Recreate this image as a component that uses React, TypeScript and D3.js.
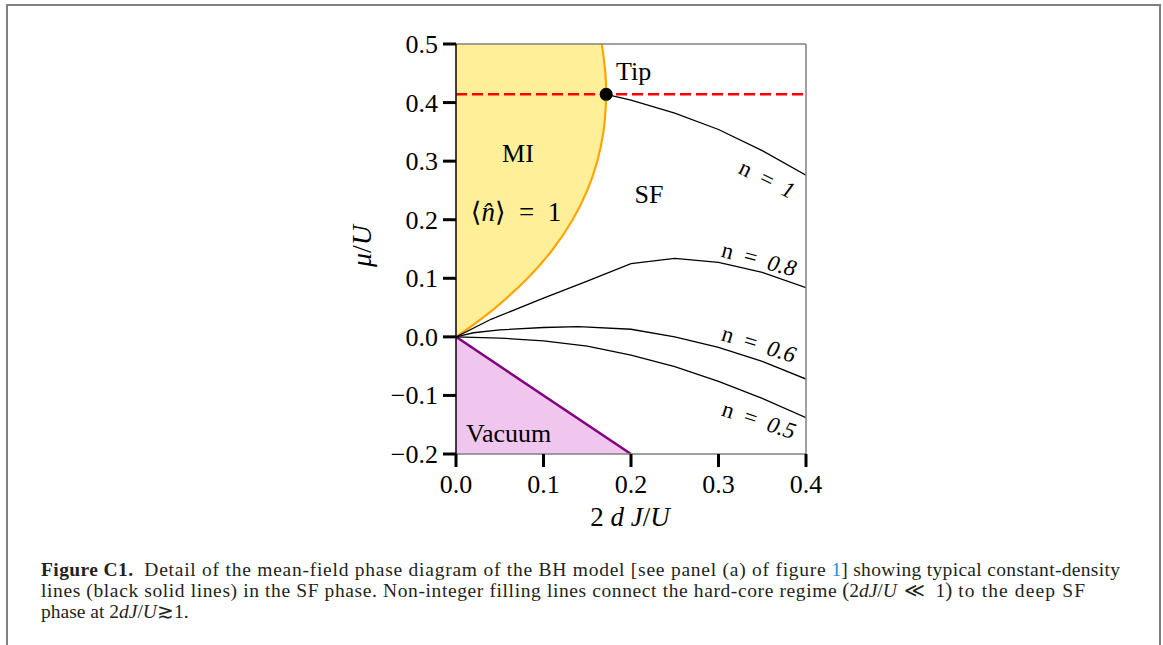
import React, { useLayoutEffect, useRef, useState } from "react";
import * as d3 from "d3";

// ---------- data ----------
const xTicks = [0.0, 0.1, 0.2, 0.3, 0.4];
const yTicks = [-0.2, -0.1, 0.0, 0.1, 0.2, 0.3, 0.4, 0.5];

// Mott-lobe (n=1) boundary : [2dJ/U, mu/U]
const lobeBoundary: [number, number][] = [
  [0.0, 0.0], [0.0192, 0.02], [0.0452, 0.05], [0.0818, 0.1], [0.1109, 0.15],
  [0.1333, 0.2], [0.15, 0.25], [0.1615, 0.3], [0.1685, 0.35], [0.1714, 0.4],
  [0.1716, 0.414], [0.1707, 0.45], [0.1667, 0.5],
];
// Vacuum boundary
const vacuumBoundary: [number, number][] = [[0.0, 0.0], [0.2, -0.2]];
const tipPoint: [number, number] = [0.1716, 0.414];
const tipMu = 0.414;

const lineN1: [number, number][] = [
  [0.1716, 0.414], [0.2, 0.404], [0.25, 0.382], [0.3, 0.354], [0.35, 0.318], [0.4, 0.276],
];
const lineN08: [number, number][] = [
  [0.0, 0.0], [0.04, 0.03], [0.1, 0.066], [0.15, 0.095], [0.2, 0.125],
  [0.25, 0.134], [0.3, 0.127], [0.35, 0.11], [0.4, 0.084],
];
const lineN06: [number, number][] = [
  [0.0, 0.0], [0.02, 0.007], [0.05, 0.012], [0.1, 0.016], [0.14, 0.0175],
  [0.2, 0.013], [0.25, 0.0], [0.3, -0.018], [0.35, -0.042], [0.4, -0.072],
];
const lineN05: [number, number][] = [
  [0.0, 0.0], [0.05, -0.002], [0.1, -0.007], [0.15, -0.016], [0.2, -0.031],
  [0.25, -0.051], [0.3, -0.076], [0.35, -0.105], [0.4, -0.138],
];
const densityLabels = ["1", "0.8", "0.6", "0.5"];

const NB = "\u00A0";
type Seg = { t: string; b?: boolean; i?: boolean; fill?: string; size?: number };
const captionLine1: Seg[] = [
  { t: "Figure C1.", b: true },
  { t: NB + NB + "Detail of the mean-field phase diagram of the BH model [see panel (a) of figure" + NB },
  { t: "1", fill: "#1e8fd8" },
  { t: "] showing typical constant-density" },
];
const captionLine2: Seg[] = [
  { t: "lines (black solid lines) in the SF phase. Non-integer filling lines connect the hard-core regime" + NB },
  { t: "(", size: 21 },
  { t: "2" }, { t: "dJ", i: true }, { t: "/" }, { t: "U", i: true }, { t: NB + "\u226A" + NB + "1" },
  { t: ")", size: 21 },
  { t: NB + "to the deep SF" },
];
const captionLine3: Seg[] = [
  { t: "phase at 2" }, { t: "dJ", i: true }, { t: "/" }, { t: "U", i: true }, { t: "\u2273" }, { t: "1." },
];

// ---------- layout ----------
const W = 1163, H = 645;
const x = d3.scaleLinear().domain([0, 0.4]).range([456, 806]);
const y = d3.scaleLinear().domain([-0.2, 0.5]).range([454, 44]);
const fmt = d3.format(".1f");
const serif = "'Liberation Serif', 'DejaVu Serif', serif";

const line = d3.line<[number, number]>().x(d => x(d[0])).y(d => y(d[1]));
const smooth = d3.line<[number, number]>().x(d => x(d[0])).y(d => y(d[1])).curve(d3.curveCatmullRom);

const captionLines = [
  { segs: captionLine1, baseline: 576, target: 1079 },
  { segs: captionLine2, baseline: 597, target: 1044 },
  { segs: captionLine3, baseline: 618, target: 0 },
];
const CAP_X = 41;
const CAP_SIZE = 19.5;

function Caption() {
  const refs = useRef<(SVGTextElement | null)[][]>(captionLines.map(() => []));
  const [layout, setLayout] = useState<{ xs: number[]; lens: (number | undefined)[] }[] | null>(null);
  useLayoutEffect(() => {
    const res = captionLines.map((ln, li) => {
      const widths = ln.segs.map((_, si) => refs.current[li][si]?.getComputedTextLength() || 0);
      const spaces = ln.segs.map(s => (s.t.match(/[ \u00A0]/g) || []).length);
      const total = d3.sum(widths);
      const nsp = d3.sum(spaces);
      const extra = ln.target && nsp ? Math.max(0, (ln.target - total) / nsp) : 0;
      const xs: number[] = [];
      const lens: (number | undefined)[] = [];
      let cx = CAP_X;
      ln.segs.forEach((s, si) => {
        xs.push(cx);
        const w = widths[si] + spaces[si] * extra;
        lens.push(spaces[si] && extra ? w : undefined);
        cx += w;
      });
      return { xs, lens };
    });
    setLayout(res);
  }, []);
  return (
    <g fontSize={CAP_SIZE} fill="#231f20">
      {captionLines.map((ln, li) =>
        ln.segs.map((s, si) => {
          const lx = layout ? layout[li].xs[si] : CAP_X;
          const len = layout ? layout[li].lens[si] : undefined;
          return (
            <text
              key={li + "-" + si}
              ref={el => { refs.current[li][si] = el; }}
              x={lx}
              y={ln.baseline}
              fontWeight={s.b ? "bold" : undefined}
              fontStyle={s.i ? "italic" : undefined}
              fill={s.fill}
              fontSize={s.size}
              textLength={len}
              lengthAdjust={len ? "spacing" : undefined}
              opacity={layout ? 1 : 0}
            >
              {s.t}
            </text>
          );
        })
      )}
    </g>
  );
}

export default function App() {
  const [x0, x1] = x.range();
  const [yb, yt] = y.range();
  const lobePath = smooth(lobeBoundary) + `L${x(0)},${y(0.5)}Z`;
  const vacPath = line(vacuumBoundary) + `L${x(0)},${y(-0.2)}Z`;
  const nLines = [lineN1, lineN08, lineN06, lineN05];
  const labelPos = [
    { cx: 767, cy: 179, rot: 26 },
    { cx: 759, cy: 259, rot: 15 },
    { cx: 759, cy: 344, rot: 17 },
    { cx: 759, cy: 420, rot: 18 },
  ];
  return (
    <svg width={W} height={H} style={{ position: "absolute", left: 0, top: 0, background: "#fff" }}
      fontFamily={serif}>
      <rect x={0} y={0} width={W} height={H} fill="#fff" />
      {/* page frame */}
      <path d={`M7,${H}V5H1160V${H}`} fill="none" stroke="#808080" strokeWidth={2} />
      <defs>
        <clipPath id="plot">
          <rect x={x0} y={yt} width={x1 - x0} height={yb - yt} />
        </clipPath>
      </defs>
      <g clipPath="url(#plot)">
        <path d={lobePath} fill="#ffef99" stroke="none" />
        <path d={smooth(lobeBoundary) || ""} fill="none" stroke="#ffa500" strokeWidth={2.2} />
        <path d={vacPath} fill="#f0c6ef" stroke="none" />
        <path d={line(vacuumBoundary) || ""} fill="none" stroke="#800080" strokeWidth={2.5} />
        {nLines.map((l, i) => (
          <path key={i} d={line(l) || ""} fill="none" stroke="#000" strokeWidth={1.3} />
        ))}
        <line x1={x(0)} x2={x(0.4)} y1={y(tipMu)} y2={y(tipMu)} stroke="#ff0000"
          strokeWidth={2.5} strokeDasharray="11,5" />
      </g>
      <circle cx={x(tipPoint[0])} cy={y(tipPoint[1])} r={6.5} fill="#000" />
      {/* spines */}
      <line x1={x0} x2={x1} y1={yt} y2={yt} stroke="#808080" strokeWidth={1.5} />
      <line x1={x1} x2={x1} y1={yt} y2={yb} stroke="#808080" strokeWidth={1.5} />
      <line x1={x0} x2={x1} y1={yb} y2={yb} stroke="#808080" strokeWidth={1.5} />
      <line x1={x0} x2={x0} y1={yt} y2={yb} stroke="#000" strokeWidth={1.5} />
      {/* ticks */}
      {yTicks.map(t => (
        <g key={"y" + t}>
          <line x1={x0 - 13} x2={x0} y1={y(t)} y2={y(t)} stroke="#000" strokeWidth={3} />
          <text x={438} y={y(t) + 9} textAnchor="end" fontSize={26}>{fmt(t)}</text>
        </g>
      ))}
      {xTicks.map(t => (
        <g key={"x" + t}>
          <line x1={x(t)} x2={x(t)} y1={yb} y2={yb + 13} stroke="#000" strokeWidth={3} />
          <text x={x(t)} y={493} textAnchor="middle" fontSize={26}>{fmt(t)}</text>
        </g>
      ))}
      {/* axis labels */}
      <text x={630} y={526} textAnchor="middle" fontSize={27}>
        2 <tspan fontStyle="italic">d</tspan> <tspan fontStyle="italic">J</tspan>/<tspan fontStyle="italic">U</tspan>
      </text>
      <text transform="translate(371,246) rotate(-90)" textAnchor="middle" fontSize={28}>
        <tspan fontStyle="italic">μ</tspan>/<tspan fontStyle="italic">U</tspan>
      </text>
      {/* region labels */}
      <text x={616} y={80} fontSize={26}>Tip</text>
      <text x={518} y={162} textAnchor="middle" fontSize={26}>MI</text>
      <text x={649} y={203} textAnchor="middle" fontSize={26}>SF</text>
      <text x={516} y={221} textAnchor="middle" fontSize={27}>
        ⟨<tspan fontStyle="italic">n̂</tspan>⟩{"\u2002"}={"\u2002"}1
      </text>
      <text x={466} y={442} fontSize={26}>Vacuum</text>
      {densityLabels.map((lab, i) => (
        <text key={lab} transform={`translate(${labelPos[i].cx},${labelPos[i].cy}) rotate(${labelPos[i].rot})`}
          textAnchor="middle" dominantBaseline="central" fontSize={23}>
          n{"\u2002"}={"\u2002"}<tspan fontStyle="italic">{lab}</tspan>
        </text>
      ))}
      <Caption />
    </svg>
  );
}
